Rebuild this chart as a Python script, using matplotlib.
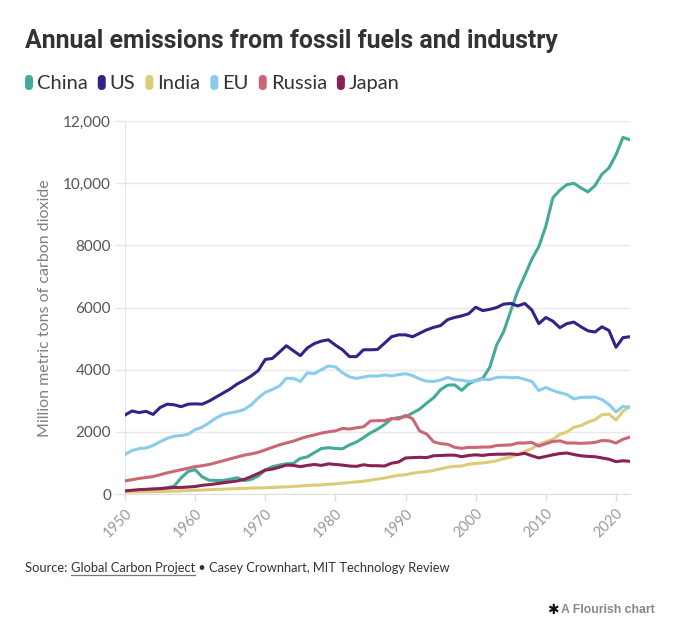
import matplotlib
matplotlib.use("Agg")
import matplotlib.pyplot as plt
from matplotlib.patches import FancyBboxPatch
from matplotlib.lines import Line2D

years = list(range(1950, 2023))

china = [79, 91, 127, 134, 159, 177, 203, 251, 518, 725,
         781, 551, 441, 436, 436, 475, 522, 433, 468, 578,
         771, 876, 930, 970, 985, 1146, 1194, 1331, 1462, 1489,
         1467, 1453, 1581, 1672, 1811, 1967, 2084, 2234, 2416, 2461,
         2485, 2606, 2730, 2921, 3096, 3357, 3501, 3510, 3335, 3542,
         3656, 3717, 4074, 4803, 5228, 5896, 6530, 7030, 7552, 7960,
         8616, 9529, 9778, 9952, 9996, 9849, 9720, 9920, 10289, 10489,
         10912, 11472, 11397]

us = [2540, 2670, 2620, 2660, 2560, 2780, 2890, 2870, 2810, 2890,
      2900, 2890, 2990, 3120, 3250, 3380, 3540, 3660, 3800, 3970,
      4330, 4360, 4560, 4770, 4610, 4450, 4700, 4840, 4920, 4960,
      4790, 4640, 4420, 4420, 4640, 4640, 4650, 4850, 5060, 5120,
      5120, 5060, 5170, 5280, 5360, 5420, 5610, 5680, 5730, 5800,
      6010, 5900, 5940, 6000, 6110, 6130, 6050, 6130, 5920, 5480,
      5680, 5560, 5350, 5480, 5530, 5380, 5250, 5210, 5380, 5260,
      4720, 5030, 5060]

india = [64, 68, 70, 70, 75, 79, 84, 92, 98, 108,
         120, 128, 138, 150, 155, 167, 175, 179, 192, 197,
         199, 210, 221, 230, 240, 258, 273, 284, 292, 313,
         324, 350, 370, 390, 410, 445, 480, 515, 560, 600,
         620, 670, 700, 720, 760, 810, 860, 890, 900, 960,
         980, 1000, 1030, 1070, 1140, 1190, 1270, 1370, 1460, 1600,
         1680, 1760, 1920, 1990, 2150, 2200, 2310, 2390, 2550, 2570,
         2380, 2660, 2830]

eu = [1270, 1400, 1460, 1480, 1560, 1680, 1790, 1860, 1880, 1920,
      2070, 2150, 2290, 2450, 2560, 2610, 2650, 2720, 2870, 3090,
      3270, 3360, 3470, 3720, 3720, 3620, 3900, 3870, 4000, 4120,
      4090, 3900, 3770, 3720, 3760, 3800, 3790, 3830, 3800, 3840,
      3870, 3810, 3700, 3630, 3620, 3670, 3750, 3680, 3660, 3620,
      3640, 3690, 3680, 3750, 3760, 3740, 3750, 3690, 3620, 3330,
      3430, 3330, 3260, 3200, 3060, 3110, 3110, 3120, 3040, 2880,
      2640, 2820, 2780]

russia = [420, 460, 500, 530, 560, 620, 680, 730, 780, 830,
          880, 910, 950, 1010, 1070, 1130, 1190, 1250, 1290, 1340,
          1420, 1500, 1580, 1640, 1700, 1780, 1850, 1900, 1960, 2000,
          2030, 2110, 2090, 2130, 2160, 2350, 2360, 2360, 2430, 2410,
          2530, 2420, 2030, 1930, 1680, 1620, 1600, 1500, 1470, 1500,
          1500, 1510, 1510, 1560, 1570, 1580, 1640, 1640, 1660, 1540,
          1620, 1690, 1710, 1640, 1640, 1630, 1640, 1660, 1720, 1710,
          1640, 1760, 1830]

japan = [100, 120, 140, 150, 160, 170, 190, 210, 210, 225,
         240, 280, 300, 330, 360, 390, 420, 470, 560, 660,
         770, 800, 860, 930, 920, 880, 920, 950, 920, 970,
         950, 930, 900, 890, 940, 910, 910, 900, 990, 1030,
         1160, 1170, 1180, 1170, 1230, 1240, 1250, 1250, 1200, 1240,
         1260, 1240, 1270, 1280, 1280, 1290, 1270, 1310, 1230, 1160,
         1210, 1260, 1300, 1320, 1270, 1230, 1210, 1200, 1160, 1120,
         1040, 1070, 1050]

series_names = ["China", "US", "India", "EU", "Russia", "Japan"]
series_values = [china, us, india, eu, russia, japan]
colors = ["#44AA99", "#332288", "#DDCC77", "#88CCEE", "#CC6677", "#882255"]

y_ticks = [0, 2000, 4000, 6000, 8000, 10000, 12000]
y_tick_labels = ["0", "2000", "4000", "6000", "8000", "10,000", "12,000"]
x_ticks = [1950, 1960, 1970, 1980, 1990, 2000, 2010, 2020]
x_tick_labels = ["1950", "1960", "1970", "1980", "1990", "2000", "2010", "2020"]

title = "Annual emissions from fossil fuels and industry"
y_label = "Million metric tons of carbon dioxide"

BODY = ["Lato", "DejaVu Sans"]
TITLE_FONT = ["Liberation Sans Narrow", "Roboto", "DejaVu Sans"]

W, H = 680, 626
fig = plt.figure(figsize=(W / 100, H / 100), dpi=100)
fig.patch.set_facecolor("white")

def fx(px):
    return px / W

def fy(py):
    return 1 - py / H

ax = fig.add_axes([fx(125), fy(494), fx(630) - fx(125), fy(121) - fy(494)])
for name, vals, c in zip(series_names, series_values, colors):
    ax.plot(years, vals, color=c, lw=2.2, solid_joinstyle="round",
            solid_capstyle="round", zorder=3)

ax.set_xlim(1950, 2022)
ax.set_ylim(0, 12000)
ax.set_yticks(y_ticks)
ax.set_yticklabels(y_tick_labels, family=BODY, fontsize=11, color="#555555")
ax.set_xticks(x_ticks)
ax.set_xticklabels(x_tick_labels, family=BODY, fontsize=10.5, color="#9a9a9a",
                   rotation=45, ha="right", rotation_mode="anchor")
ax.tick_params(axis="y", length=7, width=1, color="#e6e6e6", pad=3)
ax.tick_params(axis="x", length=5, width=1, color="#dddddd", pad=4)
ax.grid(axis="y", color="#e9e9e9", lw=1, zorder=0)
for s in ["top", "right"]:
    ax.spines[s].set_visible(False)
ax.spines["left"].set_color("#e6e6e6")
ax.spines["bottom"].set_color("#e0e0e0")
ax.set_axisbelow(True)
ax.set_facecolor("white")

fig.text(fx(45), fy(308), y_label, rotation=90, ha="center", va="center",
         family=BODY, fontsize=11.5, color="#808080")

fig.text(fx(25), fy(48), title, ha="left", va="baseline", family=TITLE_FONT,
         fontweight="bold", fontsize=17.9, color="#333333")

# Legend
fig.canvas.draw()
renderer = fig.canvas.get_renderer()
x = 25
base = 89
for name, c in zip(series_names, colors):
    box = FancyBboxPatch((fx(x), fy(90)), fx(8), fy(75) - fy(90),
                         boxstyle="round,pad=0,rounding_size=0.006",
                         transform=fig.transFigure, facecolor=c,
                         edgecolor="none", mutation_aspect=W / H)
    fig.patches.append(box)
    t = fig.text(fx(x + 12), fy(base), name, ha="left", va="baseline",
                 family=BODY, fontsize=14.5, color="#333333")
    bb = t.get_window_extent(renderer)
    x = x + 12 + bb.width + 10

# Source line
sx = 25
sb = 572
fs = 9.3
t1 = fig.text(fx(sx), fy(sb), "Source: ", ha="left", va="baseline",
              family=BODY, fontsize=fs, color="#333333")
w1 = t1.get_window_extent(renderer).width
t2 = fig.text(fx(sx + w1), fy(sb), "Global Carbon Project", ha="left",
              va="baseline", family=BODY, fontsize=fs, color="#333333")
w2 = t2.get_window_extent(renderer).width
fig.lines.append(Line2D([fx(sx + w1), fx(sx + w1 + w2)], [fy(sb + 3), fy(sb + 3)],
                        transform=fig.transFigure, color="#777777", lw=0.9))
fig.text(fx(sx + w1 + w2), fy(sb), " \u2022 Casey Crownhart, MIT Technology Review",
         ha="left", va="baseline", family=BODY, fontsize=fs, color="#333333")

# Flourish credit
tc = fig.text(fx(655), fy(613), "A Flourish chart", ha="right", va="baseline",
              family=["Liberation Sans", "DejaVu Sans"], fontweight="bold",
              fontsize=8.8, color="#888888")
wc = tc.get_window_extent(renderer).width
fig.text(fx(655 - wc - 3), fy(614), "\u2731", ha="right", va="baseline",
         family=["DejaVu Sans"], fontweight="bold", fontsize=10, color="#111111")

fig.savefig("out.png", dpi=100, facecolor="white")
